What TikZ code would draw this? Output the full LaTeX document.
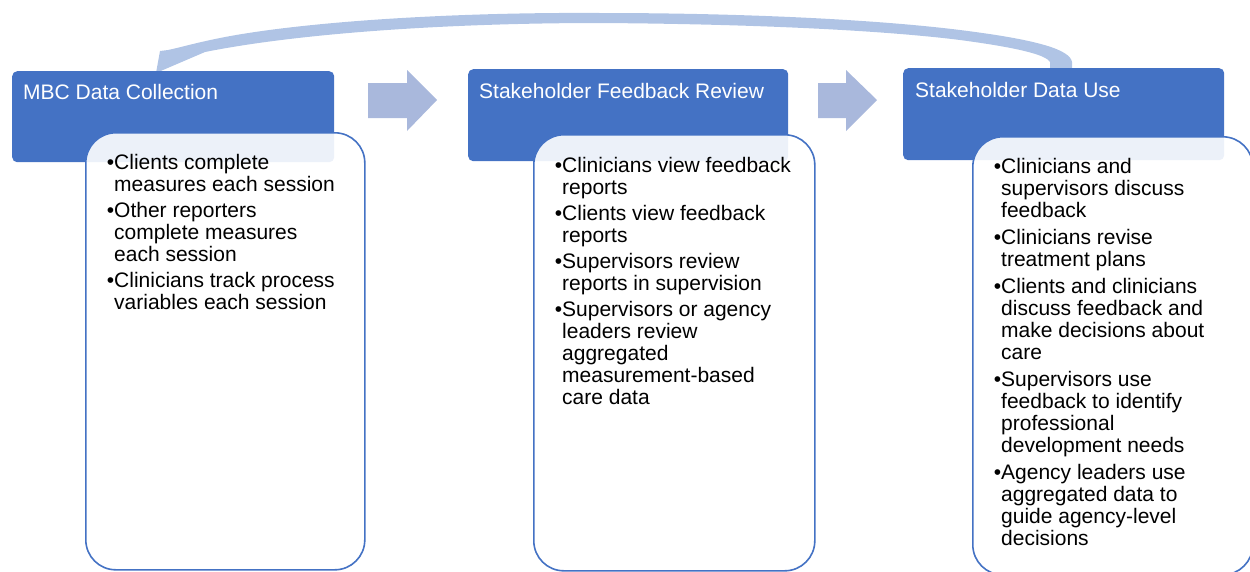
\documentclass[tikz,border=0pt]{standalone}
\usepackage{fontspec}
\setmainfont{Liberation Sans}
\definecolor{hdrblue}{HTML}{4472C4}
\definecolor{steparrow}{HTML}{A9B8DC}
\definecolor{looparrow}{HTML}{B0C4E5}
\newcommand\bl{\leavevmode\llap{•}}
\newcommand\gap{\\[4pt]}
\newcommand\wgap{\\[5pt]}
\tikzset{
  hdrbox/.style={fill=hdrblue, draw=none, rounded corners=5pt, inner sep=0,
    anchor=north west},
  listbox/.style={fill=white, fill opacity=0.9, draw=hdrblue, line width=1.6pt,
    rounded corners=30pt, inner sep=0, anchor=north west},
  hdrtext/.style={text=white, anchor=base west, inner sep=0,
    font=\fontsize{21}{22}\selectfont},
  listtext/.style={text=black, anchor=base west, inner sep=0,
    font=\fontsize{21}{22}\selectfont},
  stepshape/.style={fill=steparrow, draw=none},
}
\begin{document}
\begin{tikzpicture}[x=1pt,y=-1pt]
\useasboundingbox (0,0) rectangle (1250,571);

% forward arrows between the stages
\fill[stepshape] (368,83) -- (407,83) -- (407,70) -- (437,100) -- (407,131)
  -- (407,118) -- (368,118) -- cycle;
\fill[stepshape] (818,83) -- (846,83) -- (846,70) -- (877,100) -- (846,131)
  -- (846,118) -- (818,118) -- cycle;

% feedback loop from data use back to data collection
\fill[looparrow] (1072,70) -- (1072,62)
  .. controls (1070,50) and (1040,40) .. (960,30)
  .. controls (880,20) and (750,13) .. (600,13)
  .. controls (450,12) and (300,22) .. (220,38)
  .. controls (195,43) and (178,48) .. (168,50)
  -- (160,51) -- (156,73) -- (205,52)
  .. controls (300,33) and (450,23) .. (600,23)
  .. controls (750,24) and (880,30) .. (960,40)
  .. controls (1020,48) and (1046,55) .. (1050,62)
  -- (1050,70) -- cycle;

% stage headers
\node[hdrbox, minimum width=322, minimum height=91] (h1) at (12,71) {};
\node[hdrbox, minimum width=320, minimum height=92] (h2) at (468,69) {};
\node[hdrbox, minimum width=321, minimum height=92] (h3) at (903,68) {};

% activity lists
\node[listbox, minimum width=279, minimum height=437] (b1) at (85,132) {};
\node[listbox, minimum width=281, minimum height=436] (b2) at (533,134) {};
\node[listbox, minimum width=280, minimum height=438] (b3) at (972,136) {};

% header labels
\node[hdrtext] (t1) at (23,99) {MBC Data Collection};
\node[hdrtext] (t2) at (479,98) {Stakeholder Feedback Review};
\node[hdrtext] (t3) at (915,97) {Stakeholder Data Use};

% list contents
\node[listtext] (l1) at (114,169) {\parbox[t]{250pt}{\raggedright
\bl Clients complete\\ measures each session\gap
\bl Other reporters\\ complete measures\\ each session\gap
\bl Clinicians track process\\ variables each session}};

\node[listtext] (l2) at (562,172) {\parbox[t]{250pt}{\raggedright
\bl Clinicians view feedback\\ reports\gap
\bl Clients view feedback\\ reports\gap
\bl Supervisors review\\ reports in supervision\gap
\bl Supervisors or agency\\ leaders review\\ aggregated\\ measurement-based\\ care data}};

\node[listtext] (l3) at (1001,173) {\parbox[t]{250pt}{\raggedright
\bl Clinicians and\\ supervisors discuss\\ feedback\wgap
\bl Clinicians revise\\ treatment plans\wgap
\bl Clients and clinicians\\ discuss feedback and\\ make decisions about\\ care\wgap
\bl Supervisors use\\ feedback to identify\\ professional\\ development needs\wgap
\bl Agency leaders use\\ aggregated data to\\ guide agency-level\\ decisions}};
\end{tikzpicture}
\end{document}
